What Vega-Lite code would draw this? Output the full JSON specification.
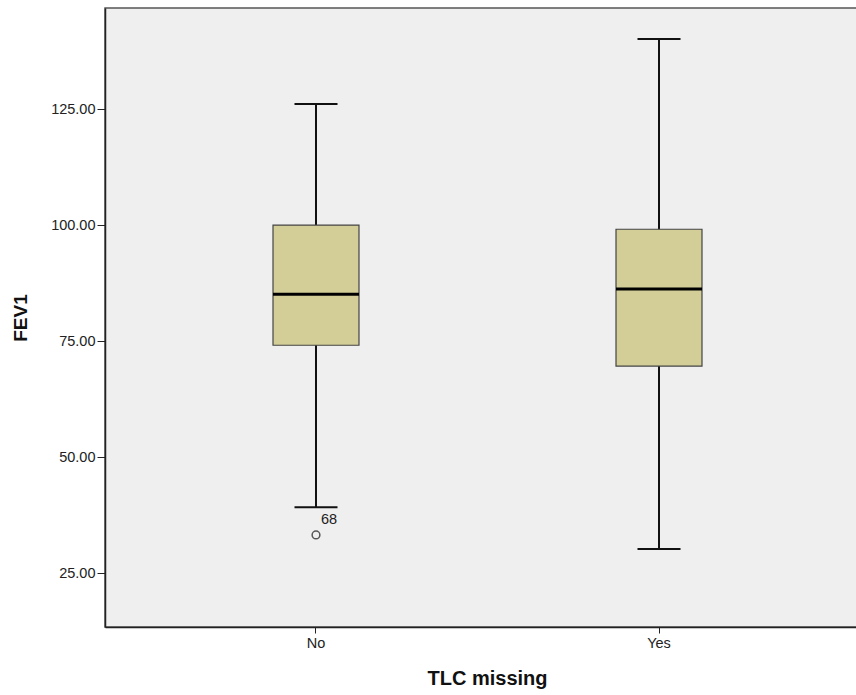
{
  "$schema": "https://vega.github.io/schema/vega-lite/v6.json",
  "width": 765,
  "height": 619,
  "autosize": {"type": "none"},
  "padding": {"left": 105, "top": 8, "right": 0, "bottom": 68},
  "background": "white",
  "config": {
    "view": {"fill": "#efefef", "stroke": "#555555", "strokeWidth": 1.5},
    "font": "Liberation Sans",
    "axis": {"grid": false, "domainColor": "#222222", "tickColor": "#222222", "labelColor": "#222222", "labelFont": "Liberation Sans", "titleFont": "Liberation Sans", "titleColor": "#111111"}
  },
  "datasets": {
    "boxes": [
      {"TLC missing": "No", "lower": 39.2, "q1": 74.1, "median": 85.1, "q3": 100.0, "upper": 126.1},
      {"TLC missing": "Yes", "lower": 30.2, "q1": 69.6, "median": 86.2, "q3": 99.1, "upper": 140.1}
    ],
    "outliers": [
      {"TLC missing": "No", "FEV1": 33.2, "case": "68"}
    ]
  },
  "encoding": {
    "x": {
      "field": "TLC missing", "type": "nominal",
      "scale": {"domain": ["No", "Yes"], "paddingInner": 0.7493, "paddingOuter": 0.4898},
      "axis": {"title": "TLC missing", "labelAngle": 0, "labelFontSize": 14.5, "tickSize": 6, "labelPadding": 3, "titleFontSize": 20, "titleFontWeight": "bold", "titlePadding": 19, "domainWidth": 1.5, "titleX": 382}
    }
  },
  "layer": [
    {
      "data": {"name": "boxes"},
      "mark": {"type": "rule", "color": "#111111", "strokeWidth": 2},
      "encoding": {
        "y": {
          "field": "lower", "type": "quantitative",
          "scale": {"domain": [13.36, 146.8], "nice": false, "zero": false},
          "axis": {"title": "FEV1", "values": [25, 50, 75, 100, 125], "format": ".2f", "labelFontSize": 14.5, "tickSize": 8, "labelPadding": 2, "titleFontSize": 19, "titleFontWeight": "bold", "titlePadding": 20, "domainWidth": 1.5}
        },
        "y2": {"field": "upper"}
      }
    },
    {
      "data": {"name": "boxes"},
      "mark": {"type": "tick", "color": "#111111", "opacity": 1, "size": 43, "thickness": 2, "orient": "horizontal"},
      "encoding": {"y": {"field": "lower", "type": "quantitative"}}
    },
    {
      "data": {"name": "boxes"},
      "mark": {"type": "tick", "color": "#111111", "opacity": 1, "size": 43, "thickness": 2, "orient": "horizontal"},
      "encoding": {"y": {"field": "upper", "type": "quantitative"}}
    },
    {
      "data": {"name": "boxes"},
      "mark": {"type": "bar", "fill": "#d3ce97", "stroke": "#444444", "strokeWidth": 1.2, "opacity": 1},
      "encoding": {
        "y": {"field": "q1", "type": "quantitative"},
        "y2": {"field": "q3"}
      }
    },
    {
      "data": {"name": "boxes"},
      "mark": {"type": "tick", "color": "#000000", "opacity": 1, "size": 86, "thickness": 3, "orient": "horizontal"},
      "encoding": {"y": {"field": "median", "type": "quantitative"}}
    },
    {
      "data": {"name": "outliers"},
      "mark": {"type": "point", "shape": "circle", "filled": false, "stroke": "#555555", "strokeWidth": 1.5, "size": 60, "opacity": 1},
      "encoding": {"y": {"field": "FEV1", "type": "quantitative"}}
    },
    {
      "data": {"name": "outliers"},
      "mark": {"type": "text", "dx": 13, "dy": -15, "fontSize": 14.5, "color": "#222222"},
      "encoding": {
        "y": {"field": "FEV1", "type": "quantitative"},
        "text": {"field": "case"}
      }
    }
  ]
}
